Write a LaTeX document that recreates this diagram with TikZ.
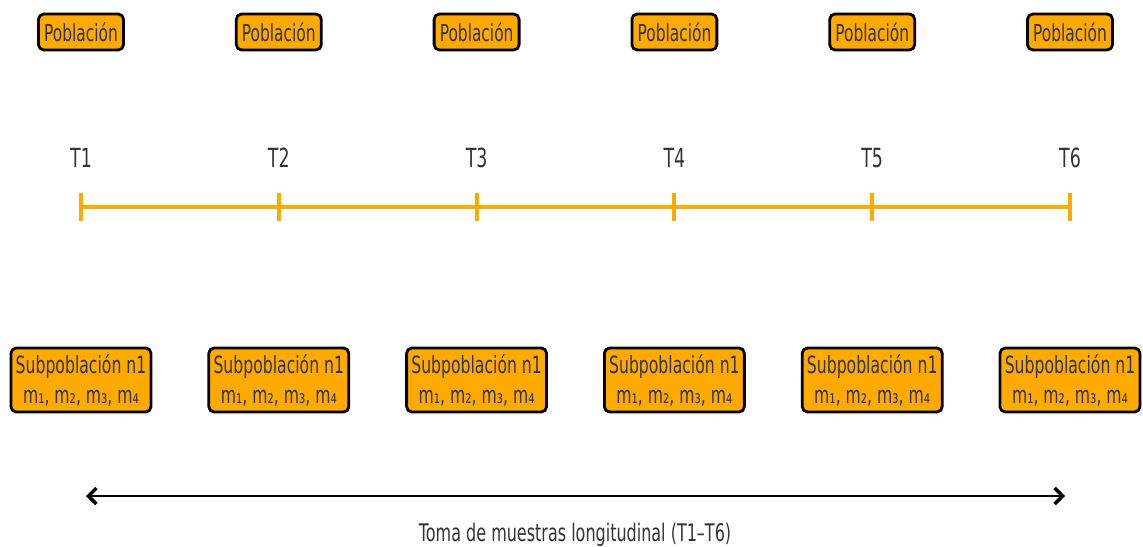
\documentclass[tikz,border=0pt]{standalone}
\usepackage{fontspec}
\setmainfont{DejaVu Sans}[FakeStretch=0.66]
\usetikzlibrary{arrows.meta}
\definecolor{naranja}{HTML}{FFAA00}
\definecolor{texto}{HTML}{333333}
\tikzset{
	caja/.style={draw=black, line width=1.6pt, fill=naranja, rounded corners=3pt, text=texto, inner sep=0pt, align=center},
	linea/.style={draw=naranja, line width=2.2pt},
	etiq/.style={text=texto, font=\fontsize{15}{18}\selectfont}
}
\begin{document}
\begin{tikzpicture}[x=0.02cm, y=-0.02cm, line join=round, >={Straight Barb[length=4.5pt,width=9pt,line width=2pt]}]
	\useasboundingbox (0,0) rectangle (1143,547);
	\foreach \i in {1,...,6}{
		\pgfmathsetmacro{\xp}{81+197.8*(\i-1)}
		\node[caja, minimum width=1.7cm, minimum height=0.72cm, font=\fontsize{13.3}{15}\selectfont] (pob\i) at (\xp,32) {Población};
		\node[etiq] (t\i) at (\xp,158) {T\i};
		\coordinate (k\i) at (\xp,207);
		\node[caja, minimum width=2.8cm, minimum height=1.28cm, font=\fontsize{13.5}{17}\selectfont] (sub\i) at (\xp,380) {Subpoblación n1\\m₁, m₂, m₃, m₄};
	}
	\draw[linea] (k1) -- (k6);
	\foreach \i in {1,...,6}\draw[linea] ([yshift=0.28cm]k\i) -- ([yshift=-0.28cm]k\i);
	\coordinate (izq) at (86,496);
	\coordinate (der) at (1065,496);
	\draw[<->, line width=1.7pt] (izq) -- (der);
	\node[etiq, font=\fontsize{13.8}{17}\selectfont] (lbl) at (575,535) {Toma de muestras longitudinal (T1–T6)};
\end{tikzpicture}
\end{document}
